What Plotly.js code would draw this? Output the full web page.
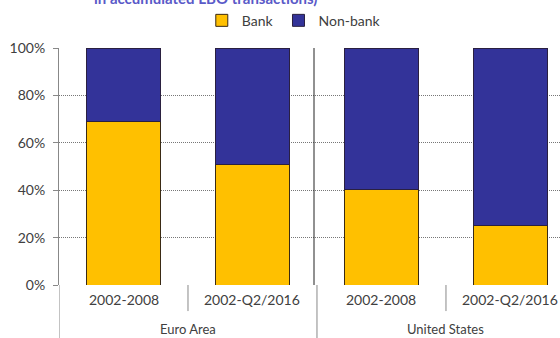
<!DOCTYPE html>
<html>
<head>
<meta charset="utf-8">
<script src="https://cdn.plot.ly/plotly-3.0.1.min.js"></script>
<style>html,body{margin:0;padding:0;background:#fff;}#chart{width:560px;height:338px;}</style>
</head>
<body>
<div id="chart"></div>
<script>
var categories = ["EA-2002-2008", "EA-2002-Q2/2016", "US-2002-2008", "US-2002-Q2/2016"];
var periodLabels = ["2002-2008", "2002-Q2/2016", "2002-2008", "2002-Q2/2016"];
var groupLabels = ["Euro Area", "United States"];
var bankShare = [69.2, 51.0, 40.5, 25.0];
var nonBankShare = [30.8, 49.0, 59.5, 75.0];
var yTicks = [0, 20, 40, 60, 80, 100];
var yTickText = ["0%", "20%", "40%", "60%", "80%", "100%"];

var font = "Lato, 'Open Sans', sans-serif";
var txt = "#404040";
var traces = [
  {type: "bar", name: "Bank", x: categories, y: bankShare, width: 0.57,
   marker: {color: "#FFC000", line: {color: "#3a2a14", width: 1}}},
  {type: "bar", name: "Non-bank", x: categories, y: nonBankShare, width: 0.57,
   marker: {color: "#333399", line: {color: "#2a2040", width: 1}}}
];

var annotations = [
  {xref: "paper", yref: "paper", x: 0.066, y: 1.212, xanchor: "left", yanchor: "middle",
   text: "<b>in accumulated LBO transactions)</b>", showarrow: false,
   font: {size: 15, color: "#5a5ac8"}}
];
periodLabels.forEach(function (t, i) {
  annotations.push({xref: "x", yref: "paper", x: i, y: -0.063, yanchor: "middle",
    text: t, showarrow: false, font: {size: 14, color: txt}});
});
groupLabels.forEach(function (t, g) {
  annotations.push({xref: "x", yref: "paper", x: 2 * g + 0.5, y: -0.185, yanchor: "middle",
    text: t, showarrow: false, font: {size: 13, color: txt}});
});

var shapes = [
  {type: "line", xref: "paper", yref: "paper", x0: 0.509, x1: 0.509, y0: 0, y1: 1,
   line: {color: "#222", width: 1}}
];
[-0.5, 1.5].forEach(function (b) {
  shapes.push({type: "line", xref: "x", yref: "paper", x0: b, x1: b, y0: 0, y1: -0.3,
    line: {color: "#888", width: 1}});
});
[0.5, 2.5].forEach(function (b) {
  shapes.push({type: "line", xref: "x", yref: "paper", x0: b, x1: b, y0: 0, y1: -0.11,
    line: {color: "#888", width: 1}});
});

var layout = {
  width: 560, height: 338,
  margin: {l: 59, r: 0, t: 48, b: 53, pad: 0},
  barmode: "stack",
  paper_bgcolor: "#fff", plot_bgcolor: "#fff",
  font: {family: font, size: 13, color: txt},
  showlegend: true,
  legend: {orientation: "h", x: 0.285, xanchor: "left", y: 1.115, yanchor: "middle",
           traceorder: "normal", font: {size: 14, color: txt}, itemwidth: 30},
  xaxis: {type: "category", categoryorder: "array", categoryarray: categories,
          range: [-0.5, 3.384], showline: false, showticklabels: false, ticks: "",
          showgrid: false, zeroline: false},
  yaxis: {range: [0, 100], tickmode: "array", tickvals: yTicks, ticktext: yTickText,
          ticks: "outside", ticklen: 5, ticklabelstandoff: 5,
          tickcolor: "#888", showline: true, linecolor: "#888", linewidth: 1,
          gridcolor: "#777", griddash: "1px,1px", gridwidth: 1, zeroline: false,
          tickfont: {size: 14, color: txt}},
  shapes: shapes,
  annotations: annotations
};
Plotly.newPlot("chart", traces, layout, {displayModeBar: false, staticPlot: true});
</script>
</body>
</html>
